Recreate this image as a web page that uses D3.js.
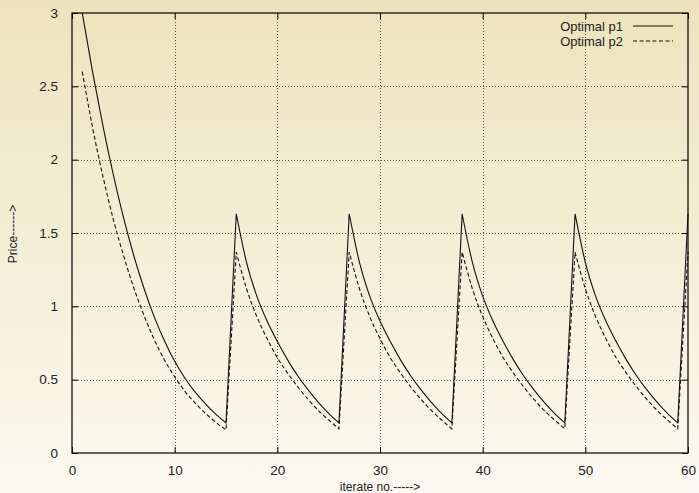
<!DOCTYPE html>
<html lang="en">
<head>
    <meta charset="UTF-8">
    <title>Optimal prices per iterate</title>
    <script src="https://d3js.org/d3.v7.min.js"></script>
    <style>
        body { margin: 0; }
        text { font-family: "Liberation Sans", Arial, sans-serif; fill: #222; }
        .grid line { stroke: #555; stroke-dasharray: 1,2; shape-rendering: crispEdges; }
    </style>
</head>
<body>
<script>
// Iterate numbers and the two price series
const iterates = d3.range(1, 61);
const p1 = [
    3.00, 2.60, 2.235, 1.905, 1.61, 1.35, 1.125, 0.93, 0.765, 0.625, 0.51, 0.415, 0.335, 0.265, 0.205,
    1.63, 1.30, 1.07, 0.90, 0.76, 0.635, 0.525, 0.43, 0.345, 0.27, 0.205,
    1.63, 1.30, 1.07, 0.90, 0.76, 0.635, 0.525, 0.43, 0.345, 0.27, 0.205,
    1.63, 1.30, 1.07, 0.90, 0.76, 0.635, 0.525, 0.43, 0.345, 0.27, 0.205,
    1.63, 1.30, 1.07, 0.90, 0.76, 0.635, 0.525, 0.43, 0.345, 0.27, 0.205,
    1.63
];
const p2 = [
    2.60, 2.22, 1.89, 1.60, 1.35, 1.13, 0.94, 0.775, 0.635, 0.52, 0.42, 0.34, 0.27, 0.21, 0.157,
    1.37, 1.12, 0.93, 0.78, 0.65, 0.545, 0.45, 0.365, 0.29, 0.225, 0.165,
    1.37, 1.12, 0.93, 0.78, 0.65, 0.545, 0.45, 0.365, 0.29, 0.225, 0.165,
    1.37, 1.12, 0.93, 0.78, 0.65, 0.545, 0.45, 0.365, 0.29, 0.225, 0.165,
    1.37, 1.12, 0.93, 0.78, 0.65, 0.545, 0.45, 0.365, 0.29, 0.225, 0.165,
    1.37
];
const seriesNames = ["Optimal p1", "Optimal p2"];
const xTicks = [0, 10, 20, 30, 40, 50, 60];
const yTicks = [0, 0.5, 1, 1.5, 2, 2.5, 3];

const W = 699, H = 493;
const margin = {top: 13, right: 11, bottom: 40, left: 72};
const width = W - margin.left - margin.right;
const height = H - margin.top - margin.bottom;

const root = d3.select("body").append("svg")
    .attr("width", W)
    .attr("height", H);

// Background gradient
const grad = root.append("defs").append("linearGradient")
    .attr("id", "bg").attr("x1", 0).attr("y1", 0).attr("x2", 0).attr("y2", 1);
grad.append("stop").attr("offset", "0%").attr("stop-color", "#ede3bd");
grad.append("stop").attr("offset", "100%").attr("stop-color", "#fbf9f1");
root.append("rect").attr("width", W).attr("height", H).attr("fill", "url(#bg)");

const svg = root.append("g")
    .attr("transform", `translate(${margin.left},${margin.top})`);

const x = d3.scaleLinear().domain([0, 60]).range([0, width]);
const y = d3.scaleLinear().domain([0, 3]).range([height, 0]);

// Grid
svg.append("g").attr("class", "grid")
    .selectAll("line").data(xTicks.slice(1, -1)).join("line")
    .attr("x1", d => Math.round(x(d)) + 0.5).attr("x2", d => Math.round(x(d)) + 0.5)
    .attr("y1", 0).attr("y2", height);
svg.append("g").attr("class", "grid")
    .selectAll("line").data(yTicks.slice(1, -1)).join("line")
    .attr("y1", d => Math.round(y(d)) + 0.5).attr("y2", d => Math.round(y(d)) + 0.5)
    .attr("x1", 0).attr("x2", width);

// Axes with inward ticks, mirrored on top/right
const tickLen = 6;
svg.append("g")
    .attr("transform", `translate(0,${height})`)
    .call(d3.axisBottom(x).tickValues(xTicks).tickSize(-tickLen).tickPadding(12))
    .call(g => g.select(".domain").remove())
    .call(g => g.selectAll("text").attr("font-size", 13.5));
svg.append("g")
    .call(d3.axisTop(x).tickValues(xTicks).tickSize(-tickLen).tickFormat(""))
    .call(g => g.select(".domain").remove());
svg.append("g")
    .call(d3.axisLeft(y).tickValues(yTicks).tickSize(-tickLen).tickPadding(14).tickFormat(d3.format("")))
    .call(g => g.select(".domain").remove())
    .call(g => g.selectAll("text").attr("font-size", 13.5));
svg.append("g")
    .attr("transform", `translate(${width},0)`)
    .call(d3.axisRight(y).tickValues(yTicks).tickSize(-tickLen).tickFormat(""))
    .call(g => g.select(".domain").remove());

// Border
svg.append("rect")
    .attr("x", 0).attr("y", 0).attr("width", width).attr("height", height)
    .attr("fill", "none").attr("stroke", "#111").attr("stroke-width", 1.3);

// Smooth each decaying run, join runs with straight jumps
const runLine = d3.line()
    .x(d => x(d[0]))
    .y(d => y(d[1]))
    .curve(d3.curveMonotoneX);
function pricePath(values) {
    const pts = values.map((v, i) => [iterates[i], v]);
    const runs = [];
    let cur = [pts[0]];
    for (let i = 1; i < pts.length; i++) {
        if (pts[i][1] > pts[i - 1][1]) { runs.push(cur); cur = []; }
        cur.push(pts[i]);
    }
    runs.push(cur);
    return runs.map((r, k) => {
        if (r.length === 1) return `L${x(r[0][0])},${y(r[0][1])}`;
        const d = runLine(r);
        return k === 0 ? d : "L" + d.slice(1);
    }).join("");
}

svg.append("path")
    .attr("d", pricePath(p1)).attr("fill", "none")
    .attr("stroke", "#111").attr("stroke-width", 1.1);
svg.append("path")
    .attr("d", pricePath(p2)).attr("fill", "none")
    .attr("stroke", "#111").attr("stroke-width", 1.1).attr("stroke-dasharray", "4,2.5");

// Legend
const legend = svg.append("g");
seriesNames.forEach((name, i) => {
    const ly = 13 + i * 15;
    legend.append("text")
        .attr("x", 551).attr("y", ly).attr("dy", "0.35em")
        .attr("text-anchor", "end").attr("font-size", 13)
        .text(name);
    legend.append("line")
        .attr("x1", 561).attr("x2", 601).attr("y1", ly).attr("y2", ly)
        .attr("stroke", "#111").attr("stroke-width", 1.1)
        .attr("stroke-dasharray", i === 1 ? "4,2.5" : null);
});

// Axis titles
root.append("text")
    .attr("x", 380).attr("y", 487).attr("dy", "0.35em")
    .attr("text-anchor", "middle").attr("font-size", 12)
    .text("iterate no.----->");
root.append("text")
    .attr("transform", "translate(13,234) rotate(-90)")
    .attr("dy", "0.35em")
    .attr("text-anchor", "middle").attr("font-size", 12)
    .text("Price------>");
</script>
</body>
</html>
